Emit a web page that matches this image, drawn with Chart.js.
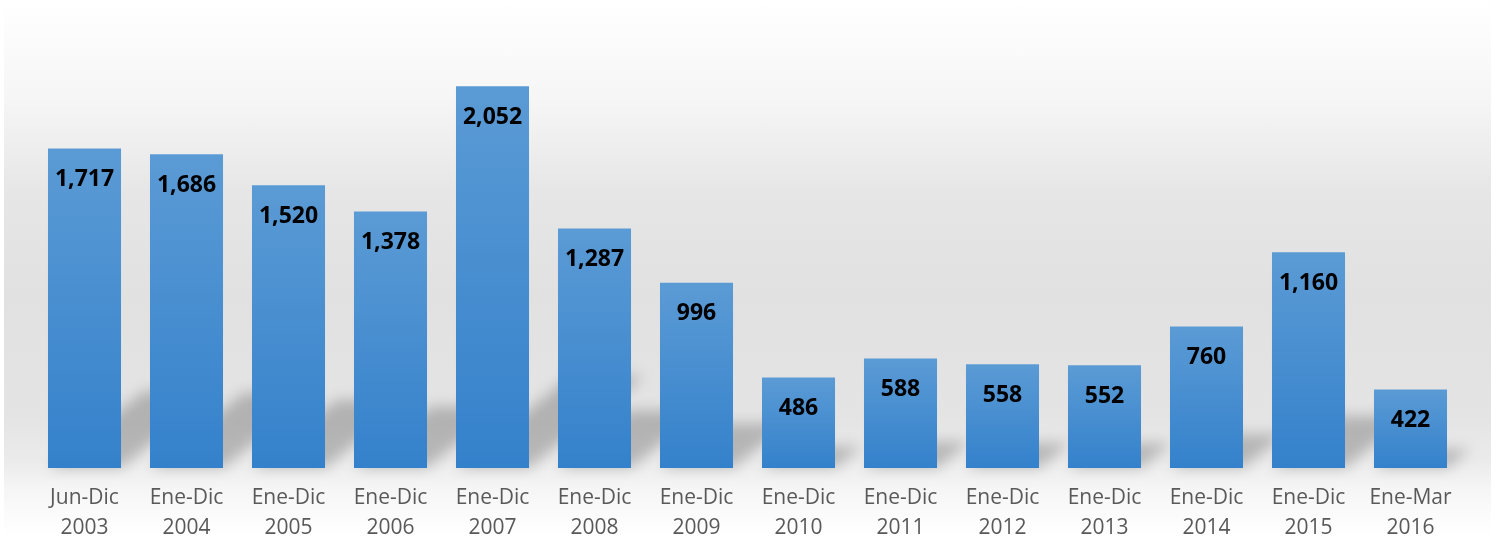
<!DOCTYPE html>
<html>
<head>
<meta charset="utf-8">
<script src="https://cdn.jsdelivr.net/npm/chart.js@4"></script>
<style>
    html, body { margin: 0; padding: 0; background: #ffffff; overflow: hidden; }
    #wrap {
        position: relative;
        width: 1497px;
        height: 558px;
    }
    #panel {
        position: absolute;
        left: 4px; top: 0; width: 1487px; height: 536px;
        background: linear-gradient(to bottom,
            #ffffff 0%, #f6f6f6 18%, #e6e6e6 36%, #e1e1e1 55%,
            #e4e4e4 78%, #ebebeb 86%, #f5f5f5 91%, #fbfbfb 96%, #ffffff 100%);
    }
    canvas { position: absolute; left: 0; top: 0; }
</style>
</head>
<body>
<div id="wrap">
    <div id="panel"></div>
    <canvas id="chartDenuncias" width="1497" height="558"></canvas>
</div>
<script>
// Datos
const periodos = ['Jun-Dic', 'Ene-Dic', 'Ene-Dic', 'Ene-Dic', 'Ene-Dic', 'Ene-Dic', 'Ene-Dic',
                  'Ene-Dic', 'Ene-Dic', 'Ene-Dic', 'Ene-Dic', 'Ene-Dic', 'Ene-Dic', 'Ene-Mar'];
const anios = ['2003', '2004', '2005', '2006', '2007', '2008', '2009',
               '2010', '2011', '2012', '2013', '2014', '2015', '2016'];
const valores = [1717, 1686, 1520, 1378, 2052, 1287, 996, 486, 588, 558, 552, 760, 1160, 422];

const labels = periodos.map((p, i) => [p, anios[i]]);

// Sombra diagonal detras de cada barra
const sombraPlugin = {
    id: 'sombra',
    beforeDatasetsDraw(chart) {
        const ctx = chart.ctx;
        const meta = chart.getDatasetMeta(0);
        ctx.save();
        ctx.filter = 'blur(7px)';
        ctx.fillStyle = 'rgba(0,0,0,0.22)';
        meta.data.forEach(bar => {
            const h = bar.base - bar.y;
            const half = bar.width / 2;
            const dx = h * 0.3;
            const dy = h * 0.24;
            ctx.beginPath();
            ctx.moveTo(bar.x - half, bar.base);
            ctx.lineTo(bar.x + half, bar.base);
            ctx.lineTo(bar.x + half + dx, bar.base - dy);
            ctx.lineTo(bar.x - half + dx, bar.base - dy);
            ctx.closePath();
            ctx.fill();
        });
        ctx.restore();
    }
};

// Etiquetas de valor dentro de la barra
const etiquetasPlugin = {
    id: 'etiquetas',
    afterDatasetsDraw(chart) {
        const ctx = chart.ctx;
        const meta = chart.getDatasetMeta(0);
        ctx.save();
        ctx.font = 'bold 23px "Open Sans"';
        ctx.fillStyle = '#000000';
        ctx.textAlign = 'center';
        ctx.textBaseline = 'middle';
        meta.data.forEach((bar, i) => {
            ctx.fillText(valores[i].toLocaleString('en-US'), bar.x, bar.y + 31);
        });
        ctx.restore();
    }
};

const ctx = document.getElementById('chartDenuncias').getContext('2d');
new Chart(ctx, {
    type: 'bar',
    data: {
        labels: labels,
        datasets: [{
            data: valores,
            backgroundColor: function(context) {
                const chart = context.chart;
                if (!chart.chartArea || context.type !== 'data') return '#4a8fd1';
                const y = chart.scales.y;
                const top = y.getPixelForValue(context.raw);
                const base = y.getPixelForValue(0);
                const g = chart.ctx.createLinearGradient(0, top, 0, base);
                g.addColorStop(0, '#5b9bd5');
                g.addColorStop(1, '#3481cb');
                return g;
            },
            borderWidth: 0,
            categoryPercentage: 1,
            barPercentage: 0.716
        }]
    },
    options: {
        responsive: false,
        animation: false,
        layout: { padding: { left: 33.5, right: 35.5, top: 40, bottom: 0 } },
        plugins: {
            legend: { display: false },
            tooltip: { enabled: false }
        },
        scales: {
            x: {
                grid: { display: false, drawTicks: false },
                border: { display: false },
                ticks: {
                    color: '#595959',
                    padding: 15,
                    maxRotation: 0,
                    autoSkip: false,
                    font: { family: '"Open Sans"', size: 21, lineHeight: '30px' }
                }
            },
            y: {
                display: false,
                min: 0,
                max: 2300
            }
        }
    },
    plugins: [sombraPlugin, etiquetasPlugin]
});
</script>
</body>
</html>
